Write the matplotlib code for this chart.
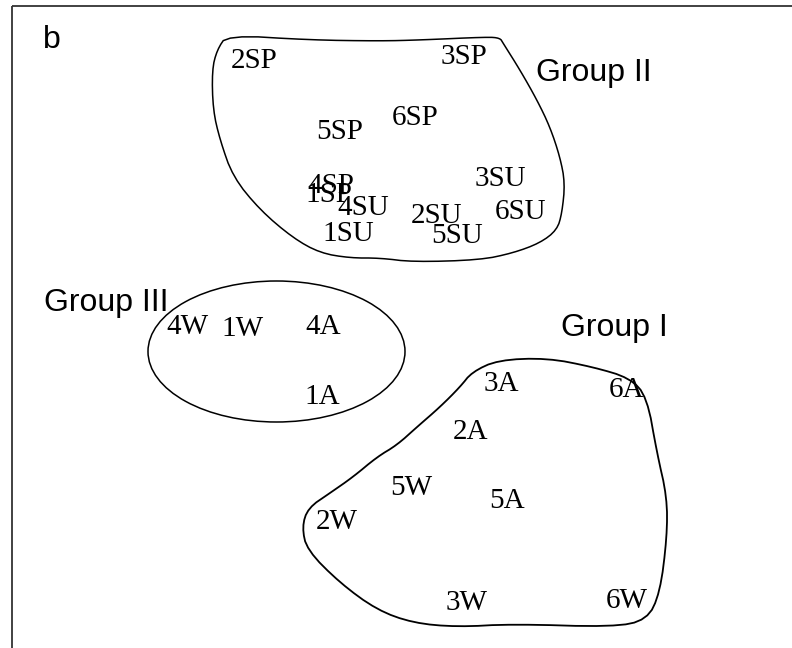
import matplotlib
matplotlib.use("Agg")
import matplotlib.pyplot as plt
from matplotlib.patches import Ellipse, Polygon
import numpy as np

# sample labels and their ordination positions (pixel-like units)
labels = ["2SP", "3SP", "5SP", "6SP", "4SP", "1SP", "4SU", "1SU", "3SU", "6SU", "2SU", "5SU",
          "4W", "1W", "4A", "1A",
          "3A", "6A", "2A", "5W", "5A", "2W", "3W", "6W"]
xs = [254, 464, 340, 415, 331, 329, 363, 348, 500, 521, 437, 457,
      187, 242, 323, 322,
      501, 626, 470, 411, 507, 337, 467, 627]
ys = [61, 57, 132, 118, 186, 195, 208, 234, 179, 212, 216, 236,
      327, 329, 327, 397,
      384, 390, 432, 488, 501, 522, 603, 601]

group_names = ["Group II", "Group III", "Group I"]
group_x = [594, 106, 614]
group_y = [73, 303, 328]

# hand-drawn group boundaries
g2_x = [227, 217, 212, 213, 220, 233, 260, 293, 320, 350, 380, 413, 480, 513, 540, 557, 562,
        565, 560, 550, 537, 520, 503, 500, 487, 420, 380, 310, 227]
g2_y = [35, 50, 70, 110, 140, 177, 210, 238, 253, 258, 258, 262, 260, 253, 243, 230, 213,
        183, 157, 127, 100, 70, 43, 38, 37, 40, 41, 40, 35]
g1_x = [472, 498, 547, 593, 630, 647, 657, 667, 667, 660, 647, 613, 513, 457, 413, 377, 340,
        307, 302, 308, 330, 353, 377, 397, 417, 440, 460]
g1_y = [372, 360, 358, 367, 378, 397, 453, 497, 537, 593, 620, 627, 624, 627, 623, 610, 583,
        550, 527, 508, 493, 477, 457, 445, 427, 407, 387]
g3_center = (276.5, 351.5)
g3_width, g3_height = 257, 141


def chaikin(px, py, n=2):
    pts = np.column_stack([px, py]).astype(float)
    for _ in range(n):
        nxt = np.roll(pts, -1, axis=0)
        q = 0.75 * pts + 0.25 * nxt
        r = 0.25 * pts + 0.75 * nxt
        pts = np.empty((2 * len(q), 2))
        pts[0::2] = q
        pts[1::2] = r
    return pts


fig = plt.figure(figsize=(7.92, 6.48), dpi=100)
ax = fig.add_axes([0, 0, 1, 1])
ax.set_xlim(0, 792)
ax.set_ylim(648, 0)
ax.axis("off")

# frame (left and top only)
ax.plot([12, 12], [648, 6], color="#333333", lw=1.3, solid_capstyle="butt")
ax.plot([12, 792], [6, 6], color="#333333", lw=1.3, solid_capstyle="butt")

ax.add_patch(Polygon(chaikin(g2_x[:-1], g2_y[:-1]), closed=True, fill=False, ec="black", lw=1.1))
ax.add_patch(Polygon(chaikin(g1_x, g1_y), closed=True, fill=False, ec="black", lw=1.3))
ax.add_patch(Ellipse(g3_center, g3_width, g3_height, fill=False, ec="black", lw=1.1))

for lab, x, y in zip(labels, xs, ys):
    ax.text(x, y, lab, family="Liberation Serif", fontsize=21, ha="center", va="center")

for name, x, y in zip(group_names, group_x, group_y):
    ax.text(x, y, name, family="Liberation Sans", fontsize=23, ha="center", va="center")

ax.text(52, 40, "b", family="Liberation Sans", fontsize=23, ha="center", va="center")

fig.savefig("out.png", dpi=100)
